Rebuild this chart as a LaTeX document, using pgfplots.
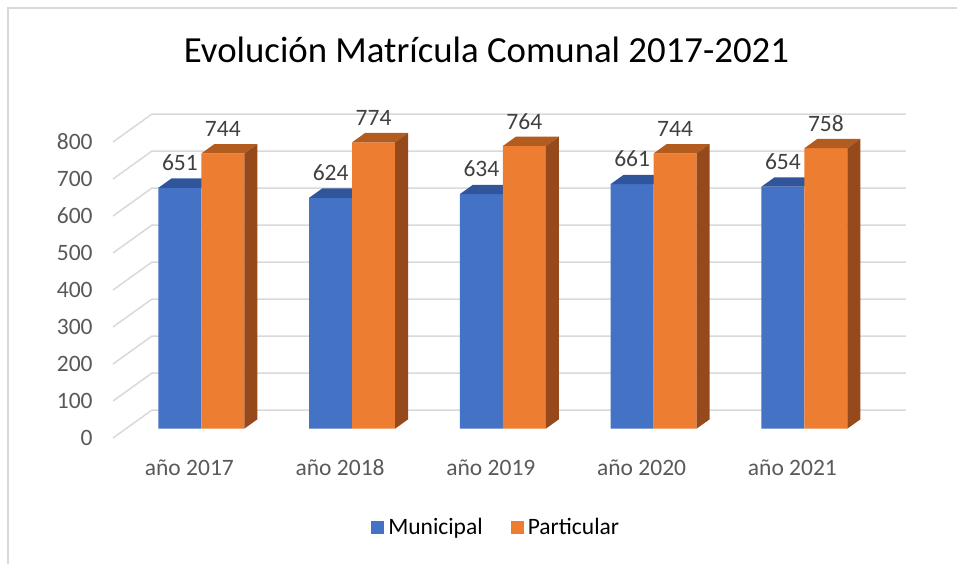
\documentclass[border=0pt]{standalone}
\usepackage{fontspec}
\setmainfont{Carlito}
\usepackage{pgfplots}
\usepackage{pgfplotstable}
\pgfplotsset{compat=1.18}
\definecolor{cblue}{HTML}{4472C4}
\definecolor{corange}{HTML}{ED7D31}
\definecolor{cbluetop}{HTML}{30559A}
\definecolor{corangetop}{HTML}{B35C1F}
\definecolor{corangeside}{HTML}{964A1C}
\definecolor{cgrid}{HTML}{D9D9D9}
\definecolor{ctick}{HTML}{595959}
\definecolor{clabel}{HTML}{404040}

\pgfplotstableread{
idx mun par
0 651 744
1 624 774
2 634 764
3 661 744
4 654 758
}\datatable

\newcommand{\lblfont}{\fontsize{11.75}{14}\selectfont}
\pgfplotsset{sqlegend/.style={legend image code/.code={\fill[##1] (0pt,-3.25pt) rectangle (6.5pt,3.25pt);}}}

\begin{document}
\begin{tikzpicture}
\path[use as bounding box] (0,0) rectangle (478.5pt,281.5pt);
\draw[cgrid, line width=0.8pt] (4pt,-2pt) -- (4pt,277.5pt) -- (481pt,277.5pt);
\node[anchor=base, font=\fontsize{18.4}{22}\selectfont, text=black, inner sep=0pt] at (243.25pt,250.15pt) {Evolución Matrícula Comunal 2017-2021};
\begin{axis}[
  at={(56.5pt,62.5pt)}, anchor=south west,
  x=75.375pt, y=0.185pt,
  xmin=-0.5862, xmax=4.6724, ymin=-25.2, ymax=850.4,
  clip=false,
  axis line style={draw=none},
  tick style={draw=none},
  xtick={0,1,2,3,4},
  xticklabels={año 2017,año 2018,año 2019,año 2020,año 2021},
  ytick={0,100,...,800},
  xticklabel style={anchor=base, yshift=-18.5pt, xshift=-6pt, font=\lblfont, text=ctick, inner sep=0pt},
  yticklabel style={anchor=east, inner sep=0pt, xshift=-10pt, yshift=-4.662pt, font=\lblfont, text=ctick},
  /pgf/number format/assume math mode=true,
  legend style={at={(0.4846,-0.2762)}, anchor=center, draw=none, fill=none,
    legend columns=2, font=\lblfont, text=black,
    /tikz/every even column/.append style={column sep=12pt}},
]
% gridlines (back wall and side wall)
\pgfplotsinvokeforeach{0,100,...,800}{
  \pgfmathsetmacro\ga{#1-25.2}
  \pgfmathsetmacro\gb{#1+50.4}
  \addplot[cgrid, line width=0.75pt, forget plot, mark=none] coordinates {(-0.5862,\ga) (-0.3276,\gb) (4.6724,\gb)};
}
% Municipal front faces
\addplot[ybar, bar width=0.285, bar shift=-0.1425, fill=cblue, draw=none, sqlegend,
  nodes near coords,
  every node near coord/.append style={anchor=center, xshift=-10.74pt, yshift=12.6pt, font=\lblfont, text=clabel}]
  table[x=idx, y=mun]{\datatable};
\addlegendentry{Municipal}
% Municipal top faces
\pgfplotsinvokeforeach{0,...,4}{
  \pgfplotstablegetelem{#1}{mun}\of\datatable
  \pgfmathsetmacro\vA{\pgfplotsretval}
  \pgfmathsetmacro\vB{\pgfplotsretval+25.2}
  \pgfmathsetmacro\xA{#1-0.285}
  \pgfmathsetmacro\xB{#1}
  \pgfmathsetmacro\xC{#1+0.0862}
  \pgfmathsetmacro\xD{#1-0.285+0.0862}
  \addplot[fill=cbluetop, draw=none, forget plot, mark=none] coordinates {(\xA,\vA) (\xB,\vA) (\xC,\vB) (\xD,\vB)};
}
% Particular front faces
\addplot[ybar, bar width=0.285, bar shift=0.1425, fill=corange, draw=none, sqlegend,
  nodes near coords,
  every node near coord/.append style={anchor=center, xshift=10.74pt, yshift=12.2pt, font=\lblfont, text=clabel}]
  table[x=idx, y=par]{\datatable};
\addlegendentry{Particular}
% Particular top and side faces
\pgfplotsinvokeforeach{0,...,4}{
  \pgfplotstablegetelem{#1}{par}\of\datatable
  \pgfmathsetmacro\vA{\pgfplotsretval}
  \pgfmathsetmacro\vB{\pgfplotsretval+25.2}
  \pgfmathsetmacro\xA{#1}
  \pgfmathsetmacro\xB{#1+0.285}
  \pgfmathsetmacro\xC{#1+0.285+0.0862}
  \pgfmathsetmacro\xD{#1+0.0862}
  \addplot[fill=corangetop, draw=none, forget plot, mark=none] coordinates {(\xA,\vA) (\xB,\vA) (\xC,\vB) (\xD,\vB)};
  \addplot[fill=corangeside, draw=none, forget plot, mark=none] coordinates {(\xB,0) (\xC,25.2) (\xC,\vB) (\xB,\vA)};
}
\end{axis}
\end{tikzpicture}
\end{document}
